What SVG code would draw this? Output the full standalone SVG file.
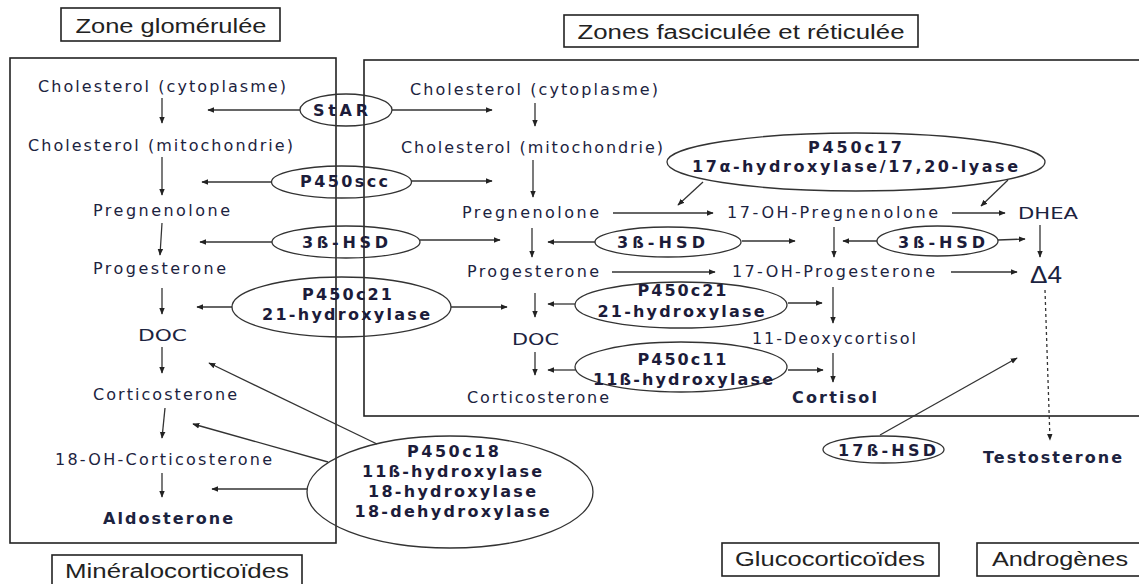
<svg xmlns="http://www.w3.org/2000/svg" width="1139" height="584" viewBox="0 0 1139 584">
<style>
.bg{fill:#fff}
.box{fill:none;stroke:#222;stroke-width:1.6}
.lbl{font-family:"Liberation Sans",Arial,sans-serif;font-size:20px;fill:#222;text-anchor:middle}
.p{font-family:"DejaVu Sans",sans-serif;font-size:16px;fill:#1c2340;text-anchor:middle}
.b{font-weight:bold}
.d4{font-family:"Liberation Sans",Arial,sans-serif;font-size:23px;fill:#1c2340;text-anchor:middle}
.ell{fill:none;stroke:#333;stroke-width:1.3}
.e{font-family:"DejaVu Sans",sans-serif;font-weight:bold;font-size:16px;fill:#1c1c3a;text-anchor:middle}
.c line{stroke:#333;stroke-width:1.3;marker-end:url(#ah)}
</style>
<defs>
<marker id="ah" viewBox="0 0 10 10" refX="9" refY="5" markerWidth="7" markerHeight="7" orient="auto" markerUnits="userSpaceOnUse"><path d="M0,1 L10,5 L0,9 z" fill="#222"/></marker>
</defs>
<rect class="bg" width="1139" height="584"/>

<g id="zones">
<rect class="box" x="61" y="8" width="219" height="33"/>
<text class="lbl" x="171" y="33" textLength="191" lengthAdjust="spacingAndGlyphs">Zone glomérulée</text>
<rect class="box" x="564" y="15" width="354" height="32"/>
<text class="lbl" x="741" y="39" textLength="327" lengthAdjust="spacingAndGlyphs">Zones fasciculée et réticulée</text>
<rect class="box" x="10" y="58" width="326" height="485"/>
<rect class="box" x="364" y="60" width="790" height="356"/>
<rect class="box" x="52" y="555" width="250" height="40"/>
<text class="lbl" x="177" y="578" textLength="224" lengthAdjust="spacingAndGlyphs">Minéralocorticoïdes</text>
<rect class="box" x="722" y="543" width="217" height="33"/>
<text class="lbl" x="830" y="566" textLength="190" lengthAdjust="spacingAndGlyphs">Glucocorticoïdes</text>
<rect class="box" x="977" y="543" width="170" height="33"/>
<text class="lbl" x="1060" y="566" textLength="136" lengthAdjust="spacingAndGlyphs">Androgènes</text>
</g>

<g id="glom-cyto"><text class="p" x="162" y="92" textLength="248" lengthAdjust="spacing">Cholesterol (cytoplasme)</text></g>
<g id="glom-mito"><text class="p" x="160.5" y="151" textLength="265" lengthAdjust="spacing">Cholesterol (mitochondrie)</text></g>
<g id="glom-preg"><text class="p" x="161.5" y="216" textLength="137" lengthAdjust="spacing">Pregnenolone</text></g>
<g id="glom-prog"><text class="p" x="159.5" y="274" textLength="133" lengthAdjust="spacing">Progesterone</text></g>
<g id="glom-doc"><text class="p" x="162.5" y="341" textLength="49" lengthAdjust="spacingAndGlyphs">DOC</text></g>
<g id="glom-cort"><text class="p" x="165" y="400" textLength="144" lengthAdjust="spacing">Corticosterone</text></g>
<g id="glom-18oh"><text class="p" x="163.5" y="465" textLength="217" lengthAdjust="spacing">18-OH-Corticosterone</text></g>
<g id="glom-aldo"><text class="p b" x="168" y="524" textLength="130" lengthAdjust="spacing">Aldosterone</text></g>

<g id="fasc-cyto"><text class="p" x="534" y="95" textLength="248" lengthAdjust="spacing">Cholesterol (cytoplasme)</text></g>
<g id="fasc-mito"><text class="p" x="532" y="153" textLength="262" lengthAdjust="spacing">Cholesterol (mitochondrie)</text></g>
<g id="fasc-preg"><text class="p" x="530.5" y="218" textLength="137" lengthAdjust="spacing">Pregnenolone</text></g>
<g id="fasc-17ohpreg"><text class="p" x="832.5" y="218" textLength="211" lengthAdjust="spacing">17-OH-Pregnenolone</text></g>
<g id="dhea"><text class="p" x="1048" y="219" textLength="60" lengthAdjust="spacingAndGlyphs">DHEA</text></g>
<g id="fasc-prog"><text class="p" x="533" y="277" textLength="132" lengthAdjust="spacing">Progesterone</text></g>
<g id="fasc-17ohprog"><text class="p" x="833.5" y="277" textLength="203" lengthAdjust="spacing">17-OH-Progesterone</text></g>
<g id="delta4"><text class="d4" x="1046" y="283" textLength="32" lengthAdjust="spacingAndGlyphs">Δ4</text></g>
<g id="fasc-doc"><text class="p" x="535.5" y="345" textLength="47" lengthAdjust="spacingAndGlyphs">DOC</text></g>
<g id="deoxycortisol"><text class="p" x="834" y="344" textLength="164" lengthAdjust="spacing">11-Deoxycortisol</text></g>
<g id="fasc-cort"><text class="p" x="538" y="403" textLength="142" lengthAdjust="spacing">Corticosterone</text></g>
<g id="cortisol"><text class="p b" x="834.5" y="403" textLength="85" lengthAdjust="spacing">Cortisol</text></g>
<g id="testosterone"><text class="p b" x="1052.5" y="463" textLength="139" lengthAdjust="spacing">Testosterone</text></g>

<g id="star"><ellipse class="ell" cx="346" cy="110" rx="46" ry="16"/><text class="e" x="340.5" y="116" textLength="55" lengthAdjust="spacing">StAR</text></g>
<g id="p450scc"><ellipse class="ell" cx="341.5" cy="182" rx="70" ry="16"/><text class="e" x="344" y="187" textLength="88" lengthAdjust="spacing">P450scc</text></g>
<g id="hsd3-l"><ellipse class="ell" cx="346" cy="242" rx="74" ry="16"/><text class="e" x="345" y="248" textLength="86" lengthAdjust="spacing">3ß-HSD</text></g>
<g id="p450c21-l"><ellipse class="ell" cx="341.5" cy="307" rx="109.5" ry="30"/><text class="e" x="347" y="300" textLength="90" lengthAdjust="spacing">P450c21</text><text class="e" x="346" y="320" textLength="168" lengthAdjust="spacing">21-hydroxylase</text></g>
<g id="p450c18"><ellipse class="ell" cx="450" cy="492" rx="143" ry="56"/><text class="e" x="453" y="457" textLength="92" lengthAdjust="spacing">P450c18</text><text class="e" x="452" y="477" textLength="180" lengthAdjust="spacing">11ß-hydroxylase</text><text class="e" x="452" y="497" textLength="168" lengthAdjust="spacing">18-hydroxylase</text><text class="e" x="452" y="517" textLength="195" lengthAdjust="spacing">18-dehydroxylase</text></g>
<g id="hsd3-m"><ellipse class="ell" cx="668" cy="242" rx="73" ry="15"/><text class="e" x="661" y="248" textLength="88" lengthAdjust="spacing">3ß-HSD</text></g>
<g id="hsd3-r"><ellipse class="ell" cx="937.5" cy="241" rx="60.5" ry="15"/><text class="e" x="941.5" y="248" textLength="87" lengthAdjust="spacing">3ß-HSD</text></g>
<g id="p450c21-m"><ellipse class="ell" cx="681" cy="305" rx="106" ry="23"/><text class="e" x="682" y="296" textLength="89" lengthAdjust="spacing">P450c21</text><text class="e" x="681" y="317" textLength="167" lengthAdjust="spacing">21-hydroxylase</text></g>
<g id="p450c11"><ellipse class="ell" cx="681" cy="367" rx="106" ry="25"/><text class="e" x="682" y="365" textLength="89" lengthAdjust="spacing">P450c11</text><text class="e" x="683" y="385" textLength="180" lengthAdjust="spacing">11ß-hydroxylase</text></g>
<g id="p450c17"><ellipse class="ell" cx="856" cy="162" rx="189" ry="29"/><text class="e" x="855" y="153" textLength="94" lengthAdjust="spacing">P450c17</text><text class="e" x="855" y="172" textLength="326" lengthAdjust="spacing">17α-hydroxylase/17,20-lyase</text></g>
<g id="hsd17"><ellipse class="ell" cx="883.5" cy="449.5" rx="60.5" ry="13.5"/><text class="e" x="887" y="456" textLength="98" lengthAdjust="spacing">17ß-HSD</text></g>

<g id="connectors" class="c">
<line x1="300" y1="110" x2="208" y2="110"/>
<line x1="392" y1="110" x2="492" y2="110"/>
<line x1="272" y1="182" x2="202" y2="182"/>
<line x1="411" y1="181" x2="492" y2="181"/>
<line x1="272" y1="242" x2="200" y2="242"/>
<line x1="420" y1="240" x2="500" y2="240"/>
<line x1="232" y1="307" x2="197" y2="307"/>
<line x1="451" y1="307" x2="507" y2="307"/>
<line x1="377" y1="444" x2="209" y2="363"/>
<line x1="328" y1="462" x2="193" y2="424"/>
<line x1="307" y1="489" x2="212" y2="489"/>
<line x1="162" y1="98" x2="162" y2="123"/>
<line x1="162" y1="157" x2="162" y2="195"/>
<line x1="162" y1="223" x2="160" y2="255"/>
<line x1="162" y1="288" x2="162" y2="314"/>
<line x1="162" y1="347" x2="162" y2="373"/>
<line x1="165" y1="408" x2="162" y2="438"/>
<line x1="162" y1="473" x2="162" y2="497"/>
<line x1="535" y1="103" x2="535" y2="126"/>
<line x1="533" y1="160" x2="533" y2="197"/>
<line x1="532" y1="228" x2="532" y2="257"/>
<line x1="535" y1="293" x2="535" y2="317"/>
<line x1="535" y1="352" x2="535" y2="375"/>
<line x1="613" y1="213" x2="713" y2="213"/>
<line x1="612" y1="272" x2="715" y2="272"/>
<line x1="595" y1="242" x2="548" y2="242"/>
<line x1="742" y1="241" x2="795" y2="241"/>
<line x1="575" y1="304" x2="548" y2="304"/>
<line x1="788" y1="303" x2="822" y2="303"/>
<line x1="575" y1="370" x2="548" y2="370"/>
<line x1="788" y1="370" x2="823" y2="370"/>
<line x1="703" y1="182" x2="678" y2="205"/>
<line x1="1008" y1="180" x2="981" y2="206"/>
<line x1="952" y1="213" x2="1005" y2="213"/>
<line x1="834" y1="227" x2="834" y2="257"/>
<line x1="1040" y1="225" x2="1040" y2="257"/>
<line x1="877" y1="241" x2="843" y2="241"/>
<line x1="998" y1="240" x2="1025" y2="239"/>
<line x1="951" y1="272" x2="1017" y2="272"/>
<line x1="833" y1="287" x2="833" y2="323"/>
<line x1="833" y1="353" x2="833" y2="382"/>
<line x1="880" y1="435" x2="1017" y2="358"/>
<line x1="1045" y1="290" x2="1050" y2="440" stroke-dasharray="3,3"/>
</g>
</svg>
